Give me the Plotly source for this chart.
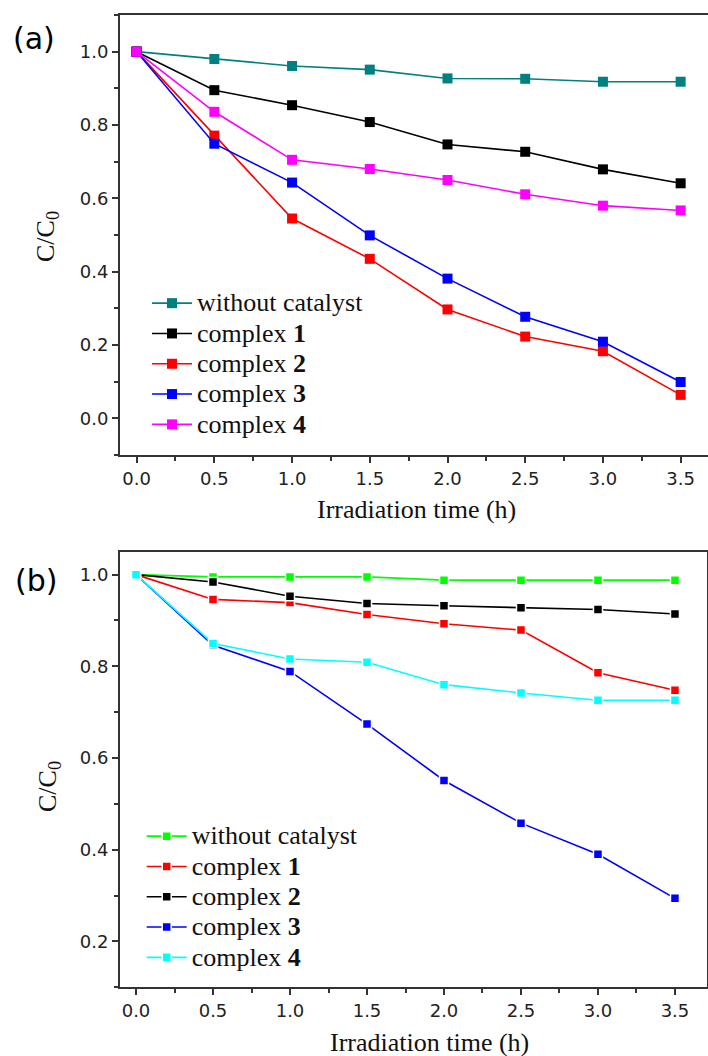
import plotly.graph_objects as go

W, H = 708, 1056

# ---------------- data ----------------
time_h = [0.0, 0.5, 1.0, 1.5, 2.0, 2.5, 3.0, 3.5]

# panel (a)
a_names = ["without catalyst", "complex <b>1</b>", "complex <b>2</b>", "complex <b>3</b>", "complex <b>4</b>"]
a_without = [1.0, 0.980, 0.961, 0.951, 0.927, 0.926, 0.918, 0.918]
a_c1 = [1.0, 0.895, 0.854, 0.808, 0.747, 0.727, 0.679, 0.641]
a_c2 = [1.0, 0.771, 0.545, 0.435, 0.297, 0.223, 0.183, 0.064]
a_c3 = [1.0, 0.749, 0.643, 0.499, 0.381, 0.277, 0.209, 0.099]
a_c4 = [1.0, 0.836, 0.705, 0.680, 0.650, 0.611, 0.580, 0.567]
a_colors = ["#008080", "#000000", "#FF0000", "#0000FF", "#FF00FF"]

# panel (b)
b_names = ["without catalyst", "complex <b>1</b>", "complex <b>2</b>", "complex <b>3</b>", "complex <b>4</b>"]
b_without = [1.0, 0.995, 0.995, 0.995, 0.988, 0.988, 0.988, 0.988]
b_c1 = [1.0, 0.946, 0.939, 0.913, 0.893, 0.879, 0.786, 0.748]
b_c2 = [1.0, 0.984, 0.953, 0.937, 0.932, 0.928, 0.924, 0.914]
b_c3 = [1.0, 0.846, 0.789, 0.674, 0.551, 0.458, 0.390, 0.294]
b_c4 = [1.0, 0.850, 0.816, 0.809, 0.760, 0.742, 0.726, 0.726]
b_colors = ["#00FF00", "#FF0000", "#000000", "#0000FF", "#00FFFF"]

x_title = "Irradiation time (h)"
y_title = "C/C<sub>0</sub>"

SERIF = "Liberation Serif, Times New Roman, serif"
SANS = "DejaVu Sans, Arial, sans-serif"
AX = "#333333"

fig = go.Figure()

def leg_text(s):
    return '<span style="font-size:26px">' + s + "</span>"

for name, ys, col in zip(a_names, [a_without, a_c1, a_c2, a_c3, a_c4], a_colors):
    fig.add_trace(go.Scatter(
        x=time_h, y=ys, name=leg_text(name), mode="lines+markers",
        line=dict(color=col, width=1.6),
        marker=dict(symbol="square", size=10, color=col, line=dict(width=0)),
        xaxis="x", yaxis="y", legend="legend",
    ))

for name, ys, col in zip(b_names, [b_without, b_c1, b_c2, b_c3, b_c4], b_colors):
    fig.add_trace(go.Scatter(
        x=time_h, y=ys, name=leg_text(name), mode="lines+markers",
        line=dict(color=col, width=1.6),
        marker=dict(symbol="square", size=9, color=col, line=dict(width=1.5, color="white")),
        xaxis="x2", yaxis="y2", legend="legend2",
    ))

def px_x(p):
    return p / W

def px_y(p):
    return 1 - p / H

tickfont = dict(family=SANS, size=18, color="#222222")

def xaxis_cfg(domain, rng, anchor):
    return dict(
        domain=domain, range=rng, anchor=anchor,
        showline=True, linecolor=AX, linewidth=2, mirror=True,
        ticks="outside", ticklen=6, tickwidth=1.5, tickcolor=AX,
        tick0=0, dtick=0.5, tickformat=".1f",
        minor=dict(ticks="outside", ticklen=4, tickwidth=1.5, tickcolor=AX, dtick=0.25, tick0=0),
        showgrid=False, zeroline=False, tickfont=tickfont, automargin=False,
    )

def yaxis_cfg(domain, rng, anchor, mirror):
    return dict(
        domain=domain, range=rng, anchor=anchor,
        showline=True, linecolor=AX, linewidth=2, mirror=mirror,
        ticks="outside", ticklen=6, tickwidth=1.5, tickcolor=AX,
        tick0=0, dtick=0.2, tickformat=".1f",
        minor=dict(ticks="outside", ticklen=4, tickwidth=1.5, tickcolor=AX, dtick=0.1, tick0=0),
        showgrid=False, zeroline=False, tickfont=tickfont, automargin=False,
    )

legend_common = dict(
    bgcolor="rgba(0,0,0,0)", borderwidth=0, itemwidth=40,
    font=dict(family=SERIF, size=21, color="#111111"),
    xanchor="left", yanchor="top", xref="paper", yref="paper",
    tracegroupgap=0,
)

fig.update_layout(
    width=W, height=H,
    margin=dict(l=0, r=0, t=0, b=0),
    paper_bgcolor="white", plot_bgcolor="white",
    showlegend=True,
    xaxis=xaxis_cfg([px_x(120), 1.0], [-0.107, 3.676], "y"),
    yaxis=yaxis_cfg([px_y(455), px_y(15)], [-0.1, 1.1], "x", False),
    xaxis2=xaxis_cfg([px_x(120), px_x(706.7)], [-0.104, 3.706], "y2"),
    yaxis2=yaxis_cfg([px_y(987.3), px_y(551.7)], [0.1, 1.05], "x2", True),
    legend=dict(x=px_x(147), y=px_y(283), **legend_common),
    legend2=dict(x=px_x(141.7), y=px_y(816), **legend_common),
)

annots = [
    dict(text="(a)", x=px_x(34), y=px_y(38), font=dict(family=SANS, size=30, color="black")),
    dict(text="(b)", x=px_x(35.5), y=px_y(580), font=dict(family=SANS, size=30, color="black")),
    dict(text=y_title, x=px_x(47), y=px_y(237), textangle=-90, font=dict(family=SERIF, size=26, color="#111111")),
    dict(text=y_title, x=px_x(49), y=px_y(787), textangle=-90, font=dict(family=SERIF, size=26, color="#111111")),
    dict(text=x_title, x=px_x(416), y=px_y(510), font=dict(family=SERIF, size=26, color="#111111")),
    dict(text=x_title, x=px_x(429), y=px_y(1042), font=dict(family=SERIF, size=26, color="#111111")),
]
for a in annots:
    fig.add_annotation(xref="paper", yref="paper", showarrow=False,
                       xanchor="center", yanchor="middle", **a)

fig.write_html(
    "out.html",
    config={"displayModeBar": False},
    post_script="document.body.style.margin='0';document.body.style.padding='0';document.body.style.overflow='hidden';",
)
